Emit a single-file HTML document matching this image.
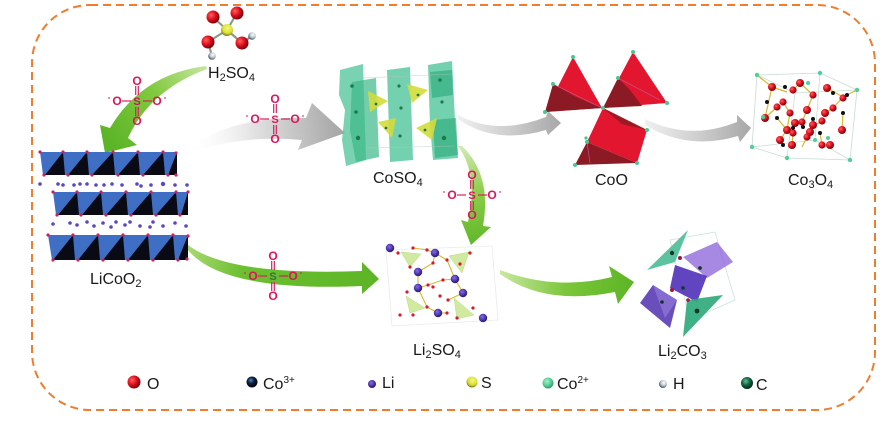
<!DOCTYPE html>
<html><head><meta charset="utf-8"><style>
html,body{margin:0;padding:0;background:#fff;}
svg{display:block;}
text{font-family:"Liberation Sans",Arial,sans-serif;}
</style></head><body>
<svg width="896" height="423" viewBox="0 0 896 423" xmlns="http://www.w3.org/2000/svg">
<defs>
 <linearGradient id="g1" gradientUnits="userSpaceOnUse" x1="205" y1="67" x2="112" y2="145">
  <stop offset="0" stop-color="#c4e69a"/><stop offset="0.45" stop-color="#82c940"/><stop offset="1" stop-color="#5cb526"/>
 </linearGradient>
 <linearGradient id="g5" gradientUnits="userSpaceOnUse" x1="460" y1="147" x2="475" y2="243">
  <stop offset="0" stop-color="#d0eab0"/><stop offset="0.5" stop-color="#8ccc4a"/><stop offset="1" stop-color="#62b82a"/>
 </linearGradient>
 <linearGradient id="g6" gradientUnits="userSpaceOnUse" x1="188" y1="248" x2="378" y2="280">
  <stop offset="0" stop-color="#a8d870"/><stop offset="0.3" stop-color="#6cbf30"/><stop offset="1" stop-color="#5cb526"/>
 </linearGradient>
 <linearGradient id="g7" gradientUnits="userSpaceOnUse" x1="500" y1="272" x2="633" y2="282">
  <stop offset="0" stop-color="#c8e8a0"/><stop offset="0.5" stop-color="#7cc63a"/><stop offset="1" stop-color="#5cb526"/>
 </linearGradient>
 <linearGradient id="gr2" gradientUnits="userSpaceOnUse" x1="185" y1="150" x2="345" y2="133">
  <stop offset="0" stop-color="#ffffff" stop-opacity="0"/><stop offset="0.45" stop-color="#e0e0e0"/><stop offset="1" stop-color="#a4a4a4"/>
 </linearGradient>
 <linearGradient id="gr3" gradientUnits="userSpaceOnUse" x1="458" y1="117" x2="560" y2="123">
  <stop offset="0" stop-color="#f0f0f0"/><stop offset="0.5" stop-color="#cfcfcf"/><stop offset="1" stop-color="#a8a8a8"/>
 </linearGradient>
 <linearGradient id="gr4" gradientUnits="userSpaceOnUse" x1="645" y1="122" x2="750" y2="128">
  <stop offset="0" stop-color="#f0f0f0"/><stop offset="0.5" stop-color="#cfcfcf"/><stop offset="1" stop-color="#a8a8a8"/>
 </linearGradient>
 <radialGradient id="rO" cx="0.35" cy="0.35" r="0.7"><stop offset="0" stop-color="#ff6060"/><stop offset="0.5" stop-color="#e0101e"/><stop offset="1" stop-color="#700008"/></radialGradient>
 <radialGradient id="rCo3" cx="0.4" cy="0.35" r="0.7"><stop offset="0" stop-color="#4a8ac0"/><stop offset="0.4" stop-color="#102040"/><stop offset="1" stop-color="#000"/></radialGradient>
 <radialGradient id="rS" cx="0.55" cy="0.35" r="0.7"><stop offset="0" stop-color="#f8f880"/><stop offset="0.6" stop-color="#d8e030"/><stop offset="1" stop-color="#606020"/></radialGradient>
 <radialGradient id="rCo2" cx="0.4" cy="0.35" r="0.7"><stop offset="0" stop-color="#a8f0c8"/><stop offset="0.6" stop-color="#50c890"/><stop offset="1" stop-color="#2a9060"/></radialGradient>
 <radialGradient id="rH" cx="0.6" cy="0.35" r="0.7"><stop offset="0" stop-color="#ffffff"/><stop offset="0.5" stop-color="#c0c8d0"/><stop offset="1" stop-color="#304050"/></radialGradient>
 <radialGradient id="rC" cx="0.4" cy="0.35" r="0.7"><stop offset="0" stop-color="#60c090"/><stop offset="0.5" stop-color="#106040"/><stop offset="1" stop-color="#032015"/></radialGradient>
 <radialGradient id="rLi" cx="0.4" cy="0.35" r="0.7"><stop offset="0" stop-color="#8070e0"/><stop offset="0.6" stop-color="#4a30a8"/><stop offset="1" stop-color="#20105a"/></radialGradient>
</defs>

<!-- dashed frame -->
<rect x="32" y="5" width="843" height="405" rx="58" ry="58" fill="none" stroke="#ef7d2d" stroke-width="2" stroke-dasharray="8,5"/>

<!-- ARROWS -->
<!-- gray LiCoO2 -> CoSO4 -->
<path d="M183,152 Q228,116 306,118 L312,103 L345,133 L298,150 L302,140 Q240,134 185,155 Z" fill="url(#gr2)"/>
<!-- gray CoSO4 -> CoO -->
<path d="M458,115 Q497,136 546,117 L548,111 L561,123 L548,135 L546,130 Q495,145 458,119 Z" fill="url(#gr3)"/>
<!-- gray CoO -> Co3O4 -->
<path d="M645,119 Q690,141 737,122 L737,115 L751,128 L740,142 L738,136 Q688,151 645,125 Z" fill="url(#gr4)"/>
<!-- green H2SO4 -> LiCoO2 -->
<path d="M206,66 Q142,74 110,128 L100,125 L105,153 L137,145 L128,138 Q150,90 207,69 Z" fill="url(#g1)"/>
<!-- green CoSO4 -> Li2SO4 -->
<path d="M458,146 Q479,175 468,222 L461,220 L471,245 L491,227 L483,226 Q492,175 462,146 Z" fill="url(#g5)"/>
<!-- green LiCoO2 -> Li2SO4 -->
<path d="M188,245 Q228,276 362,271 L362,262 L379,279 L362,294 L362,286 Q222,292 188,250 Z" fill="url(#g6)"/>
<!-- green Li2SO4 -> Li2CO3 -->
<path d="M500,270 Q556,291 612,277 L609,266 L634,282 L618,304 L615,292 Q545,306 500,274 Z" fill="url(#g7)"/>

<!-- SULFATE IONS -->
<g fill="#e0145a" stroke="none" font-weight="bold" text-anchor="middle">
 <!-- 1 -->
 <g transform="translate(137,101)">
  <g stroke="#d8205e" stroke-width="1.2"><line x1="-1.3" y1="-15" x2="-1.3" y2="-6"/><line x1="1.3" y1="-15" x2="1.3" y2="-6"/><line x1="-1.3" y1="6" x2="-1.3" y2="15"/><line x1="1.3" y1="6" x2="1.3" y2="15"/><line x1="-15" y1="0" x2="-6" y2="0"/><line x1="6" y1="0" x2="15" y2="0"/></g>
  <text x="0" y="4" font-size="11" fill="#c81860">S</text>
  <text x="0" y="-16" font-size="12">O</text><text x="0" y="24" font-size="12">O</text>
  <text x="-20" y="4" font-size="12">O</text><text x="20" y="4" font-size="12">O</text>
  <text x="-28" y="-1" font-size="8">-</text><text x="28" y="-1" font-size="8">-</text>
 </g>
 <!-- 2 -->
 <g transform="translate(275,119)">
  <g stroke="#d8205e" stroke-width="1.2"><line x1="-1.3" y1="-15" x2="-1.3" y2="-6"/><line x1="1.3" y1="-15" x2="1.3" y2="-6"/><line x1="-1.3" y1="6" x2="-1.3" y2="15"/><line x1="1.3" y1="6" x2="1.3" y2="15"/><line x1="-15" y1="0" x2="-6" y2="0"/><line x1="6" y1="0" x2="15" y2="0"/></g>
  <text x="0" y="4" font-size="11">S</text>
  <text x="0" y="-16" font-size="12">O</text><text x="0" y="24" font-size="12">O</text>
  <text x="-20" y="4" font-size="12">O</text><text x="20" y="4" font-size="12">O</text>
  <text x="-28" y="-1" font-size="8">-</text><text x="28" y="-1" font-size="8">-</text>
 </g>
 <!-- 3 -->
 <g transform="translate(472,195)">
  <g stroke="#d8205e" stroke-width="1.2"><line x1="-1.3" y1="-15" x2="-1.3" y2="-6"/><line x1="1.3" y1="-15" x2="1.3" y2="-6"/><line x1="-1.3" y1="6" x2="-1.3" y2="15"/><line x1="1.3" y1="6" x2="1.3" y2="15"/><line x1="-15" y1="0" x2="-6" y2="0"/><line x1="6" y1="0" x2="15" y2="0"/></g>
  <text x="0" y="4" font-size="11">S</text>
  <text x="0" y="-16" font-size="12">O</text><text x="0" y="24" font-size="12">O</text>
  <text x="-20" y="4" font-size="12">O</text><text x="20" y="4" font-size="12">O</text>
  <text x="-28" y="-1" font-size="8">-</text><text x="28" y="-1" font-size="8">-</text>
 </g>
 <!-- 4 -->
 <g transform="translate(273,276)">
  <g stroke="#d8205e" stroke-width="1.2"><line x1="-1.3" y1="-15" x2="-1.3" y2="-6"/><line x1="1.3" y1="-15" x2="1.3" y2="-6"/><line x1="-1.3" y1="6" x2="-1.3" y2="15"/><line x1="1.3" y1="6" x2="1.3" y2="15"/><line x1="-15" y1="0" x2="-6" y2="0"/><line x1="6" y1="0" x2="15" y2="0"/></g>
  <text x="0" y="4" font-size="11" fill="#3a7040">S</text>
  <text x="0" y="-16" font-size="12">O</text><text x="0" y="24" font-size="12">O</text>
  <text x="-20" y="4" font-size="12">O</text><text x="20" y="4" font-size="12">O</text>
  <text x="-28" y="-1" font-size="8">-</text><text x="28" y="-1" font-size="8">-</text>
 </g>
</g>

<!-- H2SO4 molecule -->
<g stroke="#8a9a88" stroke-width="2.2">
 <line x1="227" y1="30" x2="213" y2="17"/><line x1="227" y1="30" x2="237" y2="13"/>
 <line x1="227" y1="30" x2="208" y2="42"/><line x1="227" y1="30" x2="242" y2="43"/>
 <line x1="242" y1="43" x2="252" y2="36"/><line x1="208" y1="42" x2="212" y2="56"/>
</g>
<circle cx="227" cy="30" r="6" fill="url(#rS)"/>
<circle cx="213" cy="17" r="6.5" fill="url(#rO)"/>
<circle cx="237" cy="13" r="6.5" fill="url(#rO)"/>
<circle cx="208" cy="42" r="6.5" fill="url(#rO)"/>
<circle cx="242" cy="43" r="6.5" fill="url(#rO)"/>
<circle cx="252" cy="36" r="3.8" fill="url(#rH)"/>
<circle cx="212" cy="56" r="3.8" fill="url(#rH)"/>

<!-- LiCoO2 -->
<g>
 <polygon points="40,152 177,152 177,175 43,175" fill="#3f6fc4"/>
 <g fill="#0a0a14">
  <polygon points="63,152 65,175 45,175"/><polygon points="87,152 89,175 68,175"/><polygon points="113,152 115,175 92,175"/><polygon points="138,152 140,175 118,175"/><polygon points="163,152 165,175 143,175"/><polygon points="177,152 177,175 168,175"/>
 </g>
 <polygon points="53,192 188,192 188,215 56,215" fill="#3f6fc4"/>
 <g fill="#0a0a14">
  <polygon points="77,192 79,215 58,215"/><polygon points="101,192 103,215 82,215"/><polygon points="126,192 128,215 106,215"/><polygon points="151,192 153,215 131,215"/><polygon points="176,192 178,215 156,215"/><polygon points="188,192 188,215 181,215"/>
 </g>
 <polygon points="48,235 188,235 188,260 52,260" fill="#3f6fc4"/>
 <g fill="#0a0a14">
  <polygon points="73,235 75,260 53,260"/><polygon points="98,235 100,260 78,260"/><polygon points="123,235 125,260 103,260"/><polygon points="148,235 150,260 128,260"/><polygon points="173,235 175,260 153,260"/><polygon points="188,235 188,260 178,260"/>
 </g>
 <g fill="#d0205a">
  <circle cx="40" cy="152" r="1.6"/><circle cx="63" cy="152" r="1.6"/><circle cx="87" cy="152" r="1.6"/><circle cx="113" cy="152" r="1.6"/><circle cx="138" cy="152" r="1.6"/><circle cx="163" cy="152" r="1.6"/><circle cx="176" cy="153" r="1.6"/>
  <circle cx="44" cy="175" r="1.6"/><circle cx="68" cy="175" r="1.6"/><circle cx="92" cy="175" r="1.6"/><circle cx="118" cy="175" r="1.6"/><circle cx="143" cy="175" r="1.6"/><circle cx="168" cy="175" r="1.6"/><circle cx="176" cy="175" r="1.6"/>
  <circle cx="53" cy="192" r="1.6"/><circle cx="77" cy="192" r="1.6"/><circle cx="101" cy="192" r="1.6"/><circle cx="126" cy="192" r="1.6"/><circle cx="151" cy="192" r="1.6"/><circle cx="176" cy="192" r="1.6"/><circle cx="188" cy="192" r="1.6"/>
  <circle cx="57" cy="215" r="1.6"/><circle cx="81" cy="215" r="1.6"/><circle cx="106" cy="215" r="1.6"/><circle cx="131" cy="215" r="1.6"/><circle cx="156" cy="215" r="1.6"/><circle cx="180" cy="215" r="1.6"/>
  <circle cx="48" cy="235" r="1.6"/><circle cx="73" cy="235" r="1.6"/><circle cx="98" cy="235" r="1.6"/><circle cx="123" cy="235" r="1.6"/><circle cx="148" cy="235" r="1.6"/><circle cx="173" cy="235" r="1.6"/><circle cx="188" cy="236" r="1.6"/>
  <circle cx="53" cy="260" r="1.6"/><circle cx="78" cy="260" r="1.6"/><circle cx="103" cy="260" r="1.6"/><circle cx="128" cy="260" r="1.6"/><circle cx="153" cy="260" r="1.6"/><circle cx="178" cy="260" r="1.6"/><circle cx="187" cy="259" r="1.6"/>
 </g>
 <g fill="#5a48c0">
  <circle cx="40" cy="184" r="1.8"/><circle cx="58" cy="184" r="1.8"/><circle cx="63" cy="185" r="1.8"/><circle cx="74" cy="185" r="1.8"/><circle cx="80" cy="184" r="1.8"/><circle cx="87" cy="184" r="1.8"/><circle cx="96" cy="185" r="1.8"/><circle cx="104" cy="185" r="1.8"/><circle cx="112" cy="184" r="1.8"/><circle cx="122" cy="185" r="1.8"/><circle cx="137" cy="184" r="1.8"/><circle cx="141" cy="186" r="1.8"/><circle cx="151" cy="185" r="1.8"/><circle cx="163" cy="184" r="2.2"/><circle cx="175" cy="185" r="1.8"/><circle cx="187" cy="185" r="1.8"/>
  <circle cx="53" cy="224" r="1.8"/><circle cx="70" cy="223" r="1.8"/><circle cx="77" cy="225" r="1.8"/><circle cx="87" cy="222" r="1.8"/><circle cx="94" cy="226" r="1.8"/><circle cx="103" cy="223" r="1.8"/><circle cx="111" cy="227" r="1.8"/><circle cx="116" cy="222" r="1.8"/><circle cx="125" cy="225" r="1.8"/><circle cx="130" cy="222" r="1.8"/><circle cx="140" cy="226" r="1.8"/><circle cx="150" cy="227" r="1.8"/><circle cx="153" cy="222" r="1.8"/><circle cx="163" cy="226" r="1.8"/><circle cx="175" cy="223" r="1.8"/><circle cx="186" cy="226" r="1.8"/>
 </g>
</g>

<!-- CoSO4 -->
<g>
 <polygon points="340,70 363,64 366,160 346,166 342,140 345,110 339,95" fill="#4cc49a" opacity="0.75"/>
 <polygon points="352,82 376,78 379,157 356,162 350,130" fill="#3cb888" opacity="0.7"/>
 <polygon points="387,70 410,67 413,160 390,162" fill="#4cc49a" opacity="0.78"/>
 <polygon points="428,65 452,61 455,120 458,158 433,160 430,125" fill="#4cc49a" opacity="0.78"/>
 <polygon points="430,72 452,70 453,95 432,98" fill="#2aa878" opacity="0.6"/>
 <polygon points="433,120 456,118 458,155 435,158" fill="#2aa878" opacity="0.6"/>
 <g fill="#d4dc3c" opacity="0.9">
  <polygon points="368,91 388,101 370,112"/>
  <polygon points="407,84 428,90 412,103"/>
  <polygon points="378,122 396,118 392,138"/>
  <polygon points="416,128 437,118 432,140"/>
 </g>
 <g stroke="#b0c8b8" stroke-width="0.6" opacity="0.7">
  <line x1="363" y1="78" x2="452" y2="74"/><line x1="366" y1="148" x2="455" y2="146"/>
 </g>
 <g fill="#1c7a4a">
  <circle cx="352" cy="86" r="1.8"/><circle cx="356" cy="112" r="1.8"/><circle cx="358" cy="138" r="2.2"/><circle cx="399" cy="86" r="1.6"/><circle cx="401" cy="108" r="1.6"/><circle cx="400" cy="136" r="1.6"/><circle cx="440" cy="80" r="1.8"/><circle cx="442" cy="102" r="1.6"/><circle cx="444" cy="138" r="2.2"/><circle cx="376" cy="104" r="1.4"/><circle cx="418" cy="95" r="1.4"/><circle cx="386" cy="128" r="1.4"/><circle cx="425" cy="130" r="1.4"/>
 </g>
</g>

<!-- CoO -->
<g>
 <polygon points="573,57 545,112 602,108" fill="#e2162e"/>
 <polygon points="553,84 545,112 602,108 576,97" fill="#8c1a24"/>
 <polygon points="633,52 603,108 667,103" fill="#e2162e"/>
 <polygon points="618,78 603,108 642,106 630,90" fill="#8c1a24"/>
 <polygon points="603,108 647,130 637,163 587,142" fill="#e2162e"/>
 <polygon points="603,108 647,130 622,124" fill="#9a1a26"/>
 <polygon points="587,142 575,165 637,163" fill="#8c1a24"/>
 <g stroke="#c060a0" stroke-width="0.6"><line x1="553" y1="84" x2="602" y2="108"/><line x1="618" y1="78" x2="660" y2="100"/><line x1="587" y1="142" x2="590" y2="163"/></g>
 <g fill="#44c890">
  <circle cx="573" cy="57" r="2"/><circle cx="545" cy="112" r="2"/><circle cx="553" cy="84" r="2"/><circle cx="603" cy="108" r="2"/><circle cx="633" cy="52" r="2"/><circle cx="618" cy="78" r="2"/><circle cx="667" cy="103" r="2"/><circle cx="647" cy="130" r="2"/><circle cx="637" cy="163" r="2"/><circle cx="575" cy="165" r="2"/><circle cx="587" cy="142" r="2"/><circle cx="586" cy="138" r="1.6"/>
 </g>
</g>

<!-- Co3O4 -->
<g>
 <g stroke="#c8dcd2" stroke-width="0.8" fill="none">
  <polygon points="757,75 820,73 857,90 795,93"/>
  <polygon points="752,147 815,140 850,160 787,158"/>
  <line x1="757" y1="75" x2="752" y2="147"/><line x1="820" y1="73" x2="815" y2="140"/><line x1="857" y1="90" x2="850" y2="160"/><line x1="795" y1="93" x2="787" y2="158"/>
 </g>
 <g stroke="#d8b830" stroke-width="1.2">
  <line x1="772" y1="87" x2="787" y2="92"/><line x1="800" y1="83" x2="793" y2="90"/><line x1="827" y1="88" x2="843" y2="97"/><line x1="765" y1="118" x2="777" y2="107"/><line x1="783" y1="102" x2="790" y2="113"/><line x1="813" y1="95" x2="807" y2="110"/><line x1="825" y1="113" x2="833" y2="108"/><line x1="795" y1="123" x2="802" y2="122"/><line x1="813" y1="125" x2="822" y2="122"/><line x1="787" y1="130" x2="780" y2="140"/><line x1="793" y1="133" x2="792" y2="145"/><line x1="810" y1="132" x2="807" y2="137"/><line x1="822" y1="145" x2="830" y2="145"/><line x1="842" y1="130" x2="843" y2="113"/><line x1="772" y1="87" x2="765" y2="118"/><line x1="800" y1="83" x2="813" y2="95"/><line x1="807" y1="137" x2="802" y2="147"/><line x1="790" y1="113" x2="787" y2="130"/><line x1="833" y1="108" x2="843" y2="97"/><line x1="757" y1="75" x2="772" y2="87"/><line x1="857" y1="90" x2="843" y2="97"/><line x1="820" y1="133" x2="822" y2="145"/><line x1="777" y1="118" x2="787" y2="130"/><line x1="802" y1="122" x2="807" y2="110"/></g>
 <g fill="url(#rO)">
  <circle cx="772" cy="87" r="4"/><circle cx="800" cy="83" r="4"/><circle cx="793" cy="90" r="3.6"/><circle cx="827" cy="88" r="4"/><circle cx="843" cy="98" r="3.6"/><circle cx="765" cy="118" r="4"/><circle cx="783" cy="102" r="3.6"/><circle cx="777" cy="107" r="3.6"/><circle cx="813" cy="95" r="3.6"/><circle cx="807" cy="110" r="4"/><circle cx="825" cy="113" r="4"/><circle cx="833" cy="108" r="3.6"/><circle cx="790" cy="113" r="3.6"/><circle cx="795" cy="123" r="4"/><circle cx="802" cy="122" r="3.6"/><circle cx="813" cy="125" r="4"/><circle cx="822" cy="121" r="3.6"/><circle cx="787" cy="130" r="4"/><circle cx="793" cy="133" r="3.6"/><circle cx="810" cy="132" r="4"/><circle cx="842" cy="130" r="4"/><circle cx="780" cy="140" r="4"/><circle cx="792" cy="145" r="4"/><circle cx="807" cy="137" r="3.6"/><circle cx="822" cy="145" r="3.6"/><circle cx="830" cy="145" r="4"/>
 </g>
 <g fill="#101018">
  <circle cx="785" cy="87" r="2"/><circle cx="767" cy="102" r="2"/><circle cx="833" cy="93" r="2"/><circle cx="847" cy="95" r="2"/><circle cx="793" cy="128" r="2"/><circle cx="803" cy="127" r="2"/><circle cx="813" cy="119" r="2"/><circle cx="843" cy="113" r="2"/><circle cx="783" cy="145" r="2"/><circle cx="820" cy="133" r="2"/><circle cx="777" cy="118" r="2"/>
 </g>
 <g fill="#50d098">
  <circle cx="757" cy="75" r="2.2"/><circle cx="820" cy="73" r="2.2"/><circle cx="857" cy="90" r="2.2"/><circle cx="752" cy="147" r="2.2"/><circle cx="850" cy="160" r="2.2"/><circle cx="787" cy="158" r="2.2"/><circle cx="763" cy="117" r="2"/><circle cx="828" cy="138" r="2"/><circle cx="815" cy="140" r="2"/><circle cx="808" cy="83" r="2"/>
 </g>
</g>

<!-- Li2SO4 -->
<g>
 <polygon points="386,250 492,246 498,320 392,326" fill="none" stroke="#e8ece4" stroke-width="0.8"/>
 <g fill="#c8e890" opacity="0.85" stroke="#b0d070" stroke-width="0.5">
  <polygon points="401,252 421,254 410,267"/>
  <polygon points="449,256 469,252 462,273"/>
  <polygon points="406,296 425,308 410,313"/>
  <polygon points="454,298 474,315 457,319"/>
 </g>
 <g stroke="#d8b830" stroke-width="1.1">
  <line x1="413" y1="248" x2="427" y2="250"/><line x1="427" y1="250" x2="435" y2="253"/><line x1="435" y1="253" x2="447" y2="260"/><line x1="418" y1="272" x2="433" y2="263"/><line x1="433" y1="263" x2="435" y2="253"/><line x1="418" y1="272" x2="418" y2="288"/><line x1="418" y1="288" x2="428" y2="285"/><line x1="428" y1="285" x2="443" y2="280"/><line x1="443" y1="280" x2="455" y2="279"/><line x1="455" y1="279" x2="463" y2="293"/><line x1="463" y1="293" x2="448" y2="300"/><line x1="418" y1="288" x2="427" y2="307"/><line x1="427" y1="307" x2="438" y2="313"/><line x1="438" y1="313" x2="447" y2="313"/><line x1="447" y1="260" x2="455" y2="279"/>
 </g>
 <g fill="#d81830">
  <circle cx="398" cy="253" r="1.6"/><circle cx="413" cy="248" r="1.6"/><circle cx="427" cy="250" r="1.6"/><circle cx="447" cy="260" r="1.6"/><circle cx="470" cy="253" r="1.6"/><circle cx="410" cy="267" r="1.6"/><circle cx="433" cy="263" r="1.6"/><circle cx="407" cy="292" r="1.6"/><circle cx="428" cy="285" r="1.6"/><circle cx="443" cy="280" r="1.6"/><circle cx="433" cy="287" r="1.6"/><circle cx="448" cy="300" r="1.6"/><circle cx="427" cy="307" r="1.6"/><circle cx="447" cy="313" r="1.6"/><circle cx="457" cy="318" r="1.6"/><circle cx="473" cy="308" r="1.6"/><circle cx="400" cy="315" r="1.6"/><circle cx="413" cy="315" r="1.6"/><circle cx="460" cy="264" r="1.6"/><circle cx="440" cy="296" r="1.6"/>
 </g>
 <g fill="url(#rLi)">
  <circle cx="390" cy="248" r="4.2"/><circle cx="435" cy="253" r="4.2"/><circle cx="418" cy="272" r="4.2"/><circle cx="455" cy="279" r="4.2"/><circle cx="418" cy="288" r="4.2"/><circle cx="463" cy="293" r="4.2"/><circle cx="438" cy="313" r="4.2"/><circle cx="483" cy="318" r="4.2"/>
 </g>
</g>

<!-- Li2CO3 -->
<g>
 <polygon points="670,240 715,232 735,300 690,320" fill="none" stroke="#c8e0d8" stroke-width="0.7"/>
 <polygon points="647,270 688,230 675,262" fill="#40b890" opacity="0.85"/>
 <polygon points="683,257 717,242 733,262 707,278" fill="#8a60d8" opacity="0.75"/>
 <polygon points="675,265 707,276 697,302 670,288" fill="#5030b8" opacity="0.9"/>
 <polygon points="640,303 653,285 677,300 670,328" fill="#5030b0" opacity="0.85"/>
 <polygon points="653,285 677,300 665,318" fill="#9a80e0" opacity="0.6"/>
 <polygon points="687,300 723,295 683,337" fill="#2aa878" opacity="0.9"/>
 <g fill="#a01840"><circle cx="680" cy="258" r="2"/><circle cx="700" cy="268" r="1.8"/><circle cx="672" cy="290" r="2"/><circle cx="688" cy="300" r="1.8"/></g>
 <g fill="#103828"><circle cx="672" cy="253" r="2.2"/><circle cx="700" cy="268" r="1.8"/><circle cx="683" cy="288" r="1.8"/><circle cx="697" cy="311" r="2.4"/><circle cx="662" cy="302" r="1.8"/></g>
</g>

<!-- LABELS -->
<g fill="#1a1a1a" font-size="16">
 <text x="208" y="78">H<tspan font-size="11" dy="3">2</tspan><tspan dy="-3">SO</tspan><tspan font-size="11" dy="3">4</tspan></text>
 <text x="90" y="284">LiCoO<tspan font-size="11" dy="3">2</tspan></text>
 <text x="373" y="183">CoSO<tspan font-size="11" dy="3">4</tspan></text>
 <text x="595" y="185">CoO</text>
 <text x="788" y="185">Co<tspan font-size="11" dy="3">3</tspan><tspan dy="-3">O</tspan><tspan font-size="11" dy="3">4</tspan></text>
 <text x="413" y="355">Li<tspan font-size="11" dy="3">2</tspan><tspan dy="-3">SO</tspan><tspan font-size="11" dy="3">4</tspan></text>
 <text x="658" y="356">Li<tspan font-size="11" dy="3">2</tspan><tspan dy="-3">CO</tspan><tspan font-size="11" dy="3">3</tspan></text>
</g>

<!-- LEGEND -->
<circle cx="134" cy="382" r="6.5" fill="url(#rO)"/>
<circle cx="252" cy="382" r="5.5" fill="url(#rCo3)"/>
<circle cx="372" cy="384" r="4" fill="url(#rLi)"/>
<circle cx="472" cy="382" r="5.5" fill="url(#rS)"/>
<circle cx="548" cy="383" r="5.5" fill="url(#rCo2)"/>
<circle cx="663" cy="384" r="4" fill="url(#rH)"/>
<circle cx="747" cy="383" r="6" fill="url(#rC)"/>
<g fill="#1a1a1a" font-size="16">
 <text x="147" y="389">O</text>
 <text x="263" y="389">Co<tspan font-size="10" dy="-6">3+</tspan></text>
 <text x="382" y="388">Li</text>
 <text x="481" y="388">S</text>
 <text x="557" y="389">Co<tspan font-size="10" dy="-6">2+</tspan></text>
 <text x="673" y="389">H</text>
 <text x="756" y="390">C</text>
</g>
</svg>
</body></html>
